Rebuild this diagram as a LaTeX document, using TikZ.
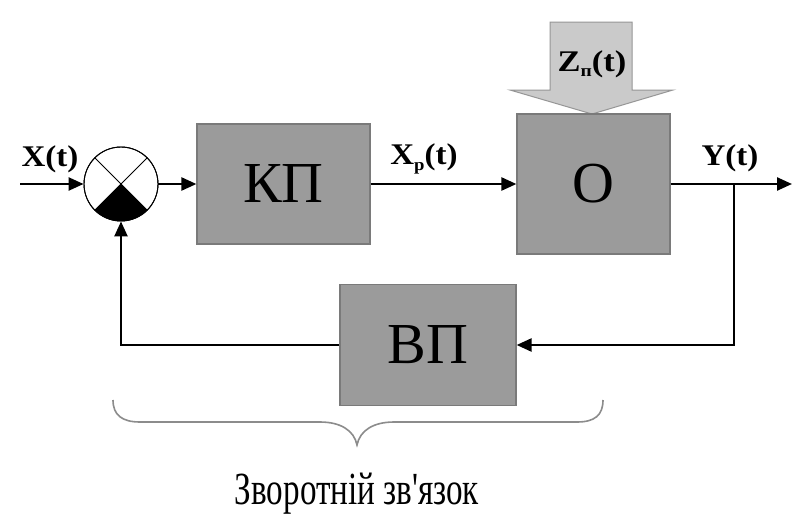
\documentclass[tikz,border=0pt]{standalone}
\usepackage{fontspec}
\setmainfont{Liberation Serif}
\usetikzlibrary{arrows.meta,calc}
\definecolor{blockfill}{HTML}{9B9B9B}
\definecolor{blockedge}{HTML}{7A7A7A}
\definecolor{zfill}{HTML}{CACACA}
\definecolor{zedge}{HTML}{969696}
\definecolor{braceclr}{HTML}{8C8C8C}
\newcommand{\sigtext}[2][1.1]{\scalebox{#1}[1]{\bfseries\fontsize{30}{32}\selectfont #2}}
\newcommand{\lowsub}[1]{\raisebox{-0.4ex}{\fontsize{17}{17}\selectfont #1}}
\begin{document}
\begin{tikzpicture}[x=1pt,y=-1pt,
  block/.style={draw=blockedge, fill=blockfill, line width=1.2pt, inner sep=0pt,
    font=\fontsize{58}{60}\selectfont},
  sig/.style={line width=2.4pt, -{Triangle[length=15pt,width=13pt]}},
  lbl/.style={inner sep=0pt},
  sumnode/.style={circle, draw, line width=0.9pt, minimum size=74pt, inner sep=0pt},
  zarrow/.style={draw=zedge, fill=zfill, line width=1pt, line join=miter},
  bracestyle/.style={draw=braceclr, line width=1.6pt}
]
\useasboundingbox (0,0) rectangle (792,522);
\fill[white] (0,0) rectangle (792,522);

% disturbance arrow entering the plant from above
\draw[zarrow] (550,22) -- (632,22) -- (632,90) -- (673,90) -- (592,114)
  -- (510,90) -- (550,90) -- cycle;
\node[lbl] (zl) at (592,64) {\sigtext[1.15]{Z\lowsub{п}(t)}};

% blocks
\node[block, minimum width=173pt, minimum height=120pt] (kp) at (283.5,184) {КП};
\node[block, minimum width=153pt, minimum height=140pt] (o) at (593.5,184) {О};
\node[block, minimum width=176pt, minimum height=121pt] (vp) at (428,345) {ВП};

% summing junction
\node[sumnode] (sum) at (121,184) {};
\fill (sum.center) -- ++(135:37) arc[start angle=135, end angle=45, radius=37] -- cycle;
\draw[line width=0.9pt] (sum.45) -- (sum.225);
\draw[line width=0.9pt] (sum.135) -- (sum.315);
\draw[line width=0.9pt] (sum) circle[radius=37];

% signal connectors
\coordinate (xin) at (20,184);
\coordinate (yout) at (792,184);
\coordinate (br) at (734,184);
\draw[sig] (xin) -- (sum.west);
\draw[sig] (sum.east) -- (kp.west);
\draw[sig] (kp.east) -- (o.west);
\draw[sig] (o.east) -- (yout);
\draw[sig] (br) |- (vp.east);
\draw[sig] (vp.west) -| (sum.south);

% signal labels
\node[lbl] (xl) at (50,159) {\sigtext{X(t)}};
\node[lbl] (xpl) at (424,159) {\sigtext{X\lowsub{р}(t)}};
\node[lbl] (yl) at (730,158) {\sigtext{Y(t)}};

% brace under the feedback path
\draw[bracestyle] (113,400) .. controls (113,415) and (122,422) .. (140,422)
  -- (320,422) .. controls (340,422) and (354,430) .. (357,445)
  .. controls (360,430) and (374,422) .. (394,422)
  -- (577,422) .. controls (595,422) and (603,415) .. (603,400);
\node (cap) at (357,494) {\scalebox{0.72}[1]{\fontsize{46}{48}\selectfont Зворотній зв\textquotesingle язок}};
\end{tikzpicture}
\end{document}
